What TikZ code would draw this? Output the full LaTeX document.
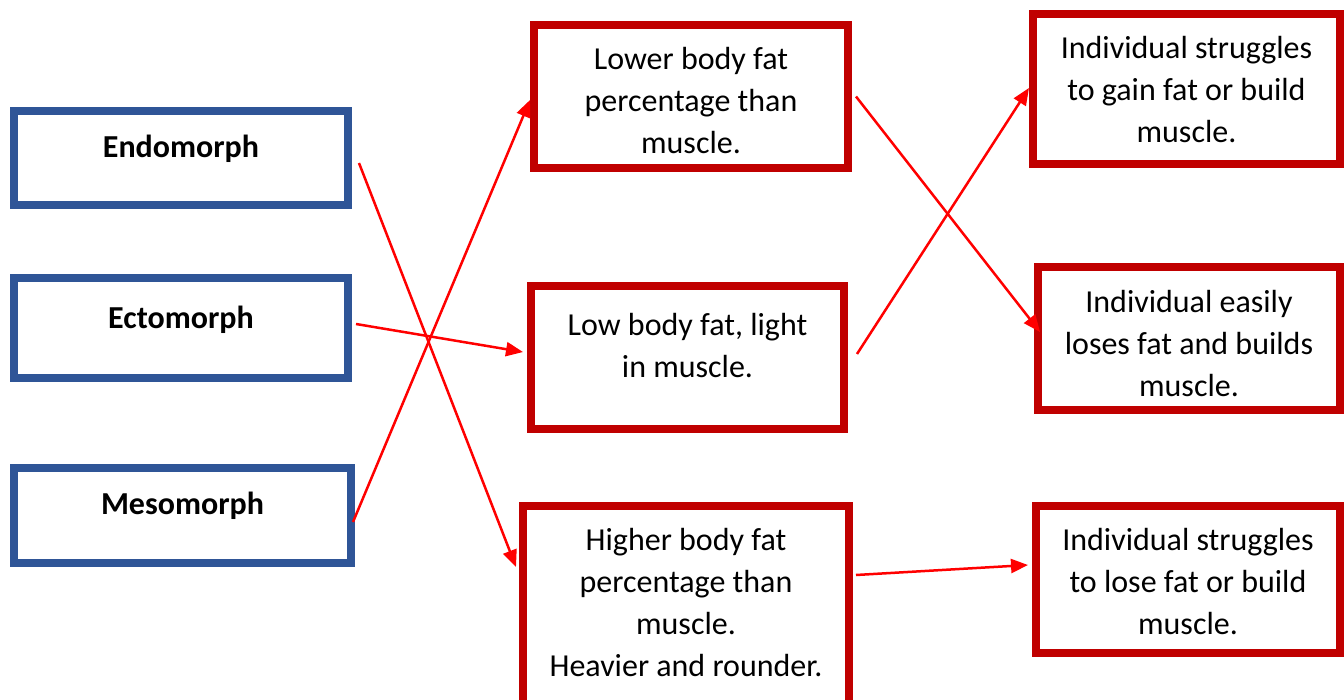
\documentclass[tikz,border=0pt]{standalone}
\usepackage{fontspec}
\setmainfont{Carlito}
\usetikzlibrary{arrows.meta,calc}
\definecolor{bluebox}{RGB}{47,85,151}
\definecolor{redbox}{RGB}{192,0,0}
\definecolor{arrowred}{RGB}{255,0,0}
\newcommand{\boxtxt}[4]{\begin{minipage}[c][#2][t]{#1}\centering\rule{0pt}{#3}#4\end{minipage}}
\begin{document}
\begin{tikzpicture}[x=1pt,y=-1pt,
  bluerect/.style={draw=bluebox,line width=8pt,inner sep=0pt,rectangle,fill=white},
  redrect/.style={draw=redbox,line width=8pt,inner sep=0pt,rectangle,fill=white},
  conn/.style={draw=arrowred,line width=2.5pt,-{Triangle[length=17pt,width=14pt]}},
  font=\fontsize{32}{42}\selectfont]
\useasboundingbox (0,0) rectangle (1344,699);
% left column
\node[bluerect] (endo) at (181,158) {\boxtxt{334pt}{94pt}{46pt}{\bfseries Endomorph}};
\node[bluerect] (ecto) at (181,328) {\boxtxt{334pt}{100pt}{50pt}{\bfseries Ectomorph}};
\node[bluerect] (meso) at (182.5,515.5) {\boxtxt{337pt}{95pt}{46pt}{\bfseries Mesomorph}};
% middle column
\node[redrect] (lower) at (691,96.5) {\boxtxt{314pt}{143pt}{44pt}{Lower body fat\\percentage than\\muscle.}};
\node[redrect] (low) at (687.5,357.5) {\boxtxt{313pt}{143pt}{49pt}{Low body fat, light\\in muscle.}};
\node[redrect] (higher) at (686,606) {\boxtxt{326pt}{200pt}{44pt}{Higher body fat\\percentage than\\muscle.\\Heavier and rounder.}};
% right column
\node[redrect] (rtop) at (1186.5,89) {\boxtxt{307pt}{150pt}{44pt}{Individual struggles\\to gain fat or build\\muscle.}};
\node[redrect] (rmid) at (1189,338.5) {\boxtxt{302pt}{143pt}{45pt}{Individual easily\\loses fat and builds\\muscle.}};
\node[redrect] (rbot) at (1188,579.5) {\boxtxt{304pt}{147pt}{44pt}{Individual struggles\\to lose fat or build\\muscle.}};
% connectors
\draw[conn] ($(endo.east)+(7,5)$) -- ($(higher.west)+(-3,-39)$);
\draw[conn] ($(ecto.east)+(4,-4)$) -- ($(low.west)+(-4,-5.5)$);
\draw[conn] ($(meso.east)+(-2,6.5)$) -- ($(lower.west)+(0,3.5)$);
\draw[conn] ($(lower.east)+(4,0)$) -- ($(rmid.west)+(6,-6.5)$);
\draw[conn] ($(low.east)+(9,-3.5)$) -- ($(rtop.west)+(0,-1)$);
\draw[conn] ($(higher.east)+(3,-31)$) -- ($(rbot.west)+(-4,-14.5)$);
\end{tikzpicture}
\end{document}
